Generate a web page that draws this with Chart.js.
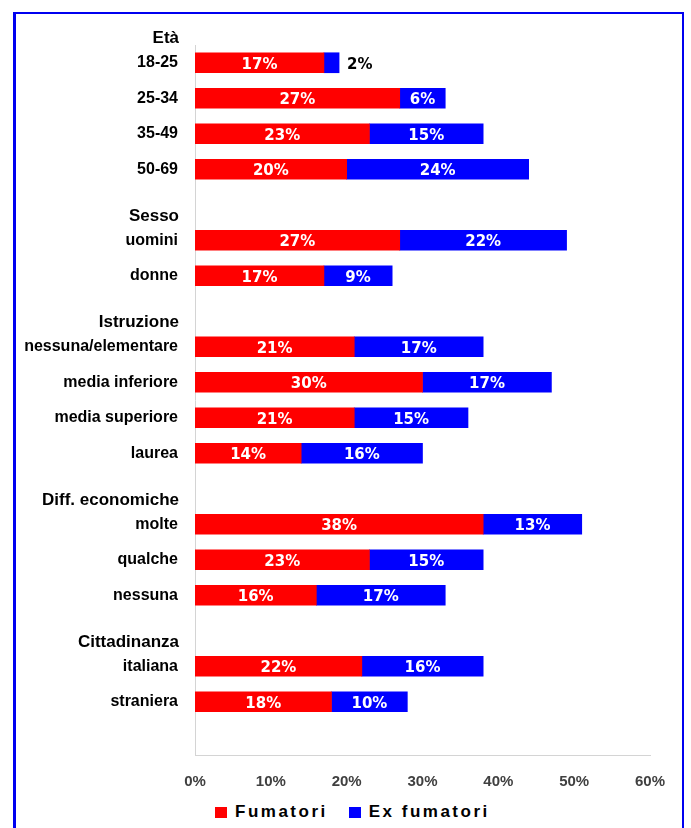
<!DOCTYPE html>
<html lang="it">
<head>
    <meta charset="UTF-8">
    <title>Fumatori ed ex fumatori</title>
    <script src="https://cdn.jsdelivr.net/npm/chart.js"></script>
    <style>
        html, body {
            margin: 0;
            padding: 0;
            background: #ffffff;
            width: 691px;
            height: 828px;
            overflow: hidden;
        }
        .frame {
            position: absolute;
            left: 13px;
            top: 12px;
            width: 666px;
            height: 900px;
            border-top: 2px solid #0000f0;
            border-left: 3px solid #0000f0;
            border-right: 2px solid #0000f0;
            pointer-events: none;
        }
        .chart-box {
            position: absolute;
            left: 0;
            top: 0;
            width: 691px;
            height: 795px;
        }
        .legend {
            position: absolute;
            left: 215px;
            top: 802px;
            display: flex;
            font-family: "Liberation Sans", Arial, sans-serif;
            font-weight: bold;
            font-size: 17px;
            letter-spacing: 2.5px;
            line-height: 20px;
            color: #000;
        }
        .legend span.item {
            display: flex;
            align-items: center;
            margin-right: 21px;
        }
        .legend span.box {
            display: inline-block;
            width: 12px;
            height: 11px;
            margin-right: 8px;
        }
    </style>
</head>
<body>
    <div class="chart-box"><canvas id="smokeChart"></canvas></div>
    <div class="legend" id="legend"></div>
    <div class="frame"></div>

    <script>
        // categories (empty strings are the gaps between groups)
        const categories = ['18-25', '25-34', '35-49', '50-69', '',
            'uomini', 'donne', '',
            'nessuna/elementare', 'media inferiore', 'media superiore', 'laurea', '',
            'molte', 'qualche', 'nessuna', '',
            'italiana', 'straniera', ''];
        const fumatori = [17, 27, 23, 20, null, 27, 17, null, 21, 30, 21, 14, null, 38, 23, 16, null, 22, 18, null];
        const exFumatori = [2, 6, 15, 24, null, 22, 9, null, 17, 17, 15, 16, null, 13, 15, 17, null, 16, 10, null];

        // group titles and the category they sit above
        const groupTitles = ['Età', 'Sesso', 'Istruzione', 'Diff. economiche', 'Cittadinanza'];
        const groupStart = [0, 5, 8, 13, 17];

        const xTicks = [0, 10, 20, 30, 40, 50, 60];

        // value labels inside the bars (small ones go outside in black)
        const barLabels = {
            id: 'barLabels',
            afterDatasetsDraw(chart) {
                const ctx = chart.ctx;
                ctx.save();
                ctx.font = 'bold 15px "DejaVu Sans", Verdana, sans-serif';
                ctx.textBaseline = 'middle';
                chart.data.datasets.forEach((ds, di) => {
                    const meta = chart.getDatasetMeta(di);
                    meta.data.forEach((bar, i) => {
                        const v = ds.data[i];
                        if (v === null || v === undefined) return;
                        const txt = v + '%';
                        if (v < 4) {
                            ctx.fillStyle = '#000000';
                            ctx.textAlign = 'left';
                            ctx.fillText(txt, bar.x + 8, bar.y + 2);
                        } else {
                            ctx.fillStyle = '#ffffff';
                            ctx.textAlign = 'center';
                            ctx.fillText(txt, (bar.x + bar.base) / 2, bar.y + 2);
                        }
                    });
                });
                ctx.restore();
            }
        };

        // bold group titles placed above the first row of each group
        const groupHeaders = {
            id: 'groupHeaders',
            afterDraw(chart) {
                const ctx = chart.ctx;
                const y = chart.scales.y;
                ctx.save();
                ctx.font = 'bold 17px "Liberation Sans", Arial, sans-serif';
                ctx.fillStyle = '#000000';
                ctx.textAlign = 'right';
                ctx.textBaseline = 'middle';
                groupTitles.forEach((t, i) => {
                    ctx.fillText(t, y.right - 16, y.getPixelForValue(groupStart[i]) - 24);
                });
                ctx.restore();
            }
        };

        const ctx = document.getElementById('smokeChart').getContext('2d');
        const chart = new Chart(ctx, {
            type: 'bar',
            data: {
                labels: categories,
                datasets: [
                    { label: 'Fumatori', data: fumatori, backgroundColor: '#ff0000', barThickness: 20 },
                    { label: 'Ex fumatori', data: exFumatori, backgroundColor: '#0000ff', barThickness: 20 }
                ]
            },
            options: {
                indexAxis: 'y',
                responsive: true,
                maintainAspectRatio: false,
                animation: false,
                layout: { padding: { left: 0, right: 41, top: 45, bottom: 0 } },
                plugins: {
                    legend: { display: false },
                    tooltip: { enabled: false }
                },
                scales: {
                    x: {
                        stacked: true,
                        min: xTicks[0],
                        max: xTicks[xTicks.length - 1],
                        afterBuildTicks: (scale) => { scale.ticks = xTicks.map(v => ({ value: v })); },
                        afterFit: (scale) => { scale.height = 40; },
                        grid: { display: false, drawTicks: false },
                        border: { display: true, color: '#d4d4d4', width: 1 },
                        ticks: {
                            padding: 18,
                            color: '#404040',
                            font: { family: '"Liberation Sans", Arial, sans-serif', size: 15, weight: 'bold' },
                            callback: (v) => v + '%'
                        }
                    },
                    y: {
                        stacked: true,
                        afterFit: (scale) => { scale.width = 195; },
                        grid: { display: false, drawTicks: false },
                        border: { display: true, color: '#d4d4d4', width: 1 },
                        ticks: {
                            autoSkip: false,
                            padding: 17,
                            color: '#000000',
                            font: { family: '"Liberation Sans", Arial, sans-serif', size: 16, weight: 'bold' }
                        }
                    }
                }
            },
            plugins: [barLabels, groupHeaders]
        });

        // HTML legend so the letter spacing matches the original
        const legendDiv = document.getElementById('legend');
        legendDiv.innerHTML = chart.data.datasets.map(ds =>
            `<span class="item"><span class="box" style="background:${ds.backgroundColor}"></span>${ds.label}</span>`
        ).join('');
    </script>
</body>
</html>
